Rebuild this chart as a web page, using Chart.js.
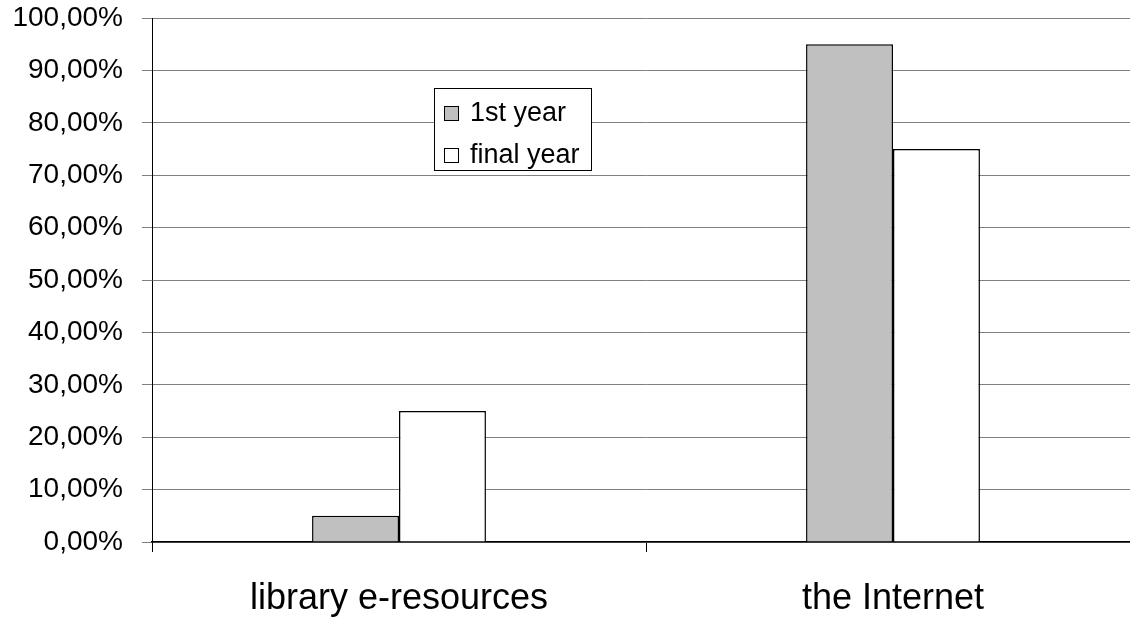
<!DOCTYPE html>
<html>
<head>
<meta charset="utf-8">
<script src="https://cdn.jsdelivr.net/npm/chart.js@4/dist/chart.umd.min.js"></script>
<style>
  html, body { margin: 0; padding: 0; background: #fff; overflow: hidden; }
  #wrap { width: 1140px; height: 619px; position: relative; }
</style>
</head>
<body>
<div id="wrap"><canvas id="c" width="1140" height="619"></canvas></div>
<script>
// Share of students citing each source, by year of study
const categories = ['library e-resources', 'the Internet'];
const seriesNames = ['1st year', 'final year'];
const firstYear = [5, 95];
const finalYear = [25, 75];
const yTicks = [0, 10, 20, 30, 40, 50, 60, 70, 80, 90, 100];

const FONT = '"Liberation Sans", Arial, Helvetica, sans-serif';

// Legend box drawn inside the plot, in the style of a spreadsheet chart
const boxLegend = {
  id: 'boxLegend',
  afterDraw(chart) {
    const ctx = chart.ctx;
    const x = 434, y = 88, w = 158, h = 83;
    ctx.save();
    ctx.fillStyle = '#ffffff';
    ctx.fillRect(x, y, w, h);
    ctx.strokeStyle = '#000000';
    ctx.lineWidth = 1;
    ctx.strokeRect(x + 0.5, y + 0.5, w - 1, h - 1);
    ctx.font = '27px ' + FONT;
    ctx.textBaseline = 'middle';
    chart.data.datasets.forEach((ds, i) => {
      const cy = y + 25 + i * 42;
      ctx.fillStyle = ds.backgroundColor;
      ctx.fillRect(x + 10, cy - 7, 15, 15);
      ctx.strokeStyle = '#000000';
      ctx.strokeRect(x + 10.5, cy - 6.5, 14, 14);
      ctx.fillStyle = '#000000';
      ctx.fillText(ds.label, x + 36, cy + 1);
    });
    ctx.restore();
  }
};

new Chart(document.getElementById('c'), {
  type: 'bar',
  data: {
    labels: categories,
    datasets: [
      { label: seriesNames[0], data: firstYear, backgroundColor: '#c0c0c0', borderColor: '#000000', borderWidth: 1.5 },
      { label: seriesNames[1], data: finalYear, backgroundColor: '#ffffff', borderColor: '#000000', borderWidth: 1.5 }
    ]
  },
  options: {
    responsive: false,
    animation: false,
    devicePixelRatio: 1,
    layout: { padding: { top: 18, right: 0, bottom: 0, left: 0 } },
    datasets: { bar: { categoryPercentage: 0.352, barPercentage: 1.0 } },
    plugins: { legend: { display: false }, tooltip: { enabled: false } },
    scales: {
      x: {
        grid: { display: true, drawOnChartArea: false, offset: true, color: '#000000', tickLength: 10, lineWidth: 1 },
        border: { display: true, color: '#000000', width: 1.5 },
        ticks: { color: '#000000', font: { family: FONT, size: 36 }, padding: 25, maxRotation: 0 },
        afterFit(scale) { scale.height = 77; }
      },
      y: {
        min: 0,
        max: 100,
        afterBuildTicks(scale) { scale.ticks = yTicks.map(v => ({ value: v })); },
        grid: { color: '#808080', lineWidth: 1, tickLength: 10 },
        border: { display: true, color: '#000000', width: 1 },
        ticks: {
          color: '#000000',
          font: { family: FONT, size: 28 },
          padding: 19,
          callback: v => v.toFixed(2).replace('.', ',') + '%'
        },
        afterFit(scale) {
          scale.width = 152;
          scale.paddingTop = 0;
          scale.paddingBottom = 0;
        }
      }
    }
  },
  plugins: [boxLegend]
});
</script>
</body>
</html>
